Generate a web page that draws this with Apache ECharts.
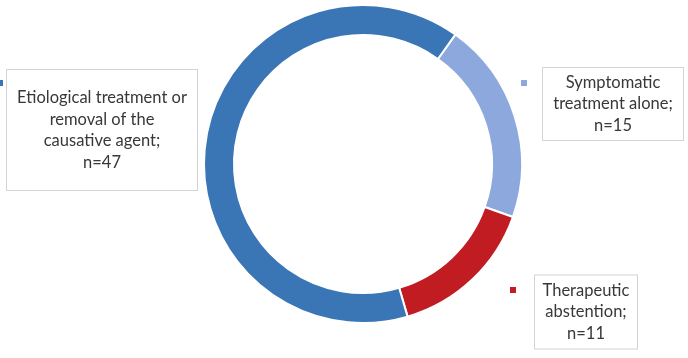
<!DOCTYPE html>
<html>
<head>
<meta charset="utf-8">
<script src="https://cdn.jsdelivr.net/npm/echarts@6/dist/echarts.min.js"></script>
<style>html,body{margin:0;padding:0;background:#fff}#c{width:688px;height:358px}</style>
</head>
<body>
<div id="c"></div>
<script>
const categories = ['Symptomatic\ntreatment alone', 'Therapeutic\nabstention', 'Etiological treatment or\nremoval of the\ncausative agent'];
const values = [15, 11, 47];
const colors = ['#8CA8DC', '#C01C22', '#3A75B5'];

const boxCenters = [[613, 104], [586, 312], [102, 130]];
const boxSizes = [[140, 72], [102, 73], [190, 120]];
const markers = [[521, 80], [510, 287], [-3, 80]];

const chart = echarts.init(document.getElementById('c'));
chart.setOption({
  animation: false,
  series: [{
    type: 'pie',
    center: [363, 164],
    radius: [129, 159],
    startAngle: 54.5,
    clockwise: true,
    itemStyle: { borderColor: '#fff', borderWidth: 2 },
    labelLine: { show: false },
    label: {
      show: true,
      position: 'outside',
      formatter: p => p.name + ';\nn=' + p.value,
      fontFamily: 'Lato',
      fontSize: 16.5,
      lineHeight: 21.5,
      color: '#383838',
      align: 'center',
      backgroundColor: '#fff',
      borderColor: '#d4d4d4',
      borderWidth: 1
    },
    labelLayout: function (p) {
      const i = p.dataIndex;
      return { x: boxCenters[i][0], y: boxCenters[i][1], align: 'center', verticalAlign: 'middle', hideOverlap: false };
    },
    data: categories.map((c, i) => {
      const lines = c.split('\n').length + 1;
      const h = lines * 21.5;
      return {
        name: c,
        value: values[i],
        itemStyle: { color: colors[i] },
        label: {
          width: boxSizes[i][0] - 2,
          height: h,
          padding: [(boxSizes[i][1] - h) / 2, 1]
        }
      };
    })
  }],
  graphic: markers.map((m, i) => ({
    type: 'rect',
    shape: { x: m[0], y: m[1], width: 6, height: 6 },
    style: { fill: colors[i] }
  }))
});
</script>
</body>
</html>
